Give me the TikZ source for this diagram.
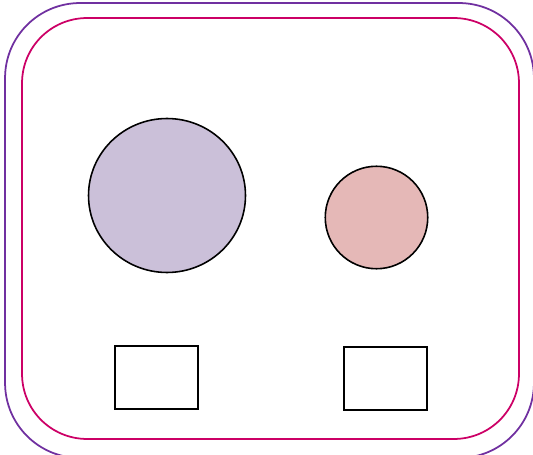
\documentclass[tikz,border=0pt]{standalone}
\usepackage{xcolor}
\usepackage{tikz}
\usetikzlibrary{positioning, shapes.geometric}
\definecolor{frviolet}{RGB}{112,48,160}
\definecolor{frmagenta}{RGB}{204,0,102}
\definecolor{lilas}{RGB}{203,192,217}
\definecolor{rosepale}{RGB}{229,184,183}

\begin{document}
\begin{tikzpicture}[x=0.02cm, y=-0.02cm,
  frame/.style={rectangle, draw, line width=1pt, inner sep=0pt},
  blob/.style={ellipse, draw=black, line width=0.9pt, inner sep=0pt},
  slot/.style={rectangle, draw=black, line width=1.1pt, fill=white,
               minimum width=1.66cm, minimum height=1.26cm, inner sep=0pt}]

  \useasboundingbox (0,0) rectangle (533,455);
  \clip (0,0) rectangle (533,455);

  \node[frame, draw=frviolet, rounded corners=1.5cm,
        minimum width=10.58cm, minimum height=9.1cm] (outer) at (269.5,230.5) {};
  \node[frame, draw=frmagenta, rounded corners=1.3cm,
        minimum width=9.94cm, minimum height=8.42cm] (inner) at (270.5,228.5) {};

  \node[blob, fill=lilas, minimum width=3.14cm, minimum height=3.08cm] (big) at (167,195.5) {};
  \node[blob, fill=rosepale, minimum size=2.05cm] (small) at (376.5,217.5) {};

  \node[slot] (slotl) at (156.5,377.5) {};
  \node[slot] (slotr) at (385.5,378.5) {};
\end{tikzpicture}
\end{document}
